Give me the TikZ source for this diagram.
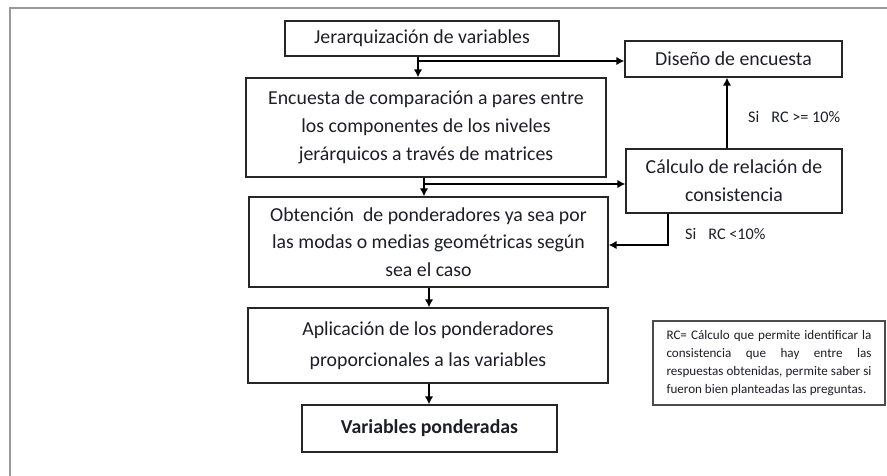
\documentclass[tikz,border=0pt]{standalone}
\usepackage{fontspec}
\setmainfont{Carlito}
\usetikzlibrary{arrows.meta,calc}
\definecolor{txt}{HTML}{1E1E28}
\definecolor{frame}{HTML}{9A9A9A}
\tikzset{
  box/.style={draw=black!85, line width=1.4pt, inner sep=0pt, align=center,
    text=txt, font={\fontsize{19.8}{27.8}\selectfont}},
  arr/.style={draw=black, line width=1.5pt, -{Latex[length=8pt,width=8.5pt]}},
  lbl/.style={anchor=west, inner sep=0pt, text=txt, font={\fontsize{16.2}{19}\selectfont}},
  notebox/.style={draw=black!70, line width=1.6pt, inner sep=0pt, text=txt,
    minimum width=232pt, minimum height=84pt, align=left,
    font={\fontsize{13.1}{18}\selectfont}}
}
\newcommand{\jline}[1]{\makebox[205pt][s]{#1}}
\begin{document}
\begin{tikzpicture}[x=1pt,y=-1pt]
\useasboundingbox (0,0) rectangle (887,475);
\fill[white] (0,0) rectangle (887,475);
% outer frame
\draw[frame, line width=2pt] (10,485) -- (10,8) -- (895,8);

% boxes
\node[box, minimum width=274pt, minimum height=35pt] (jer) at (422,38.5) {Jerarquización de variables};
\node[box, minimum width=217pt, minimum height=36pt] (dis) at (733.5,59) {Diseño de encuesta};
\node[box, minimum width=360pt, minimum height=99pt] (enc) at (426,127.5)
  {Encuesta de comparación a pares entre\\los componentes de los niveles\\jerárquicos a través de matrices};
\node[box, minimum width=216pt, minimum height=64pt] (cal) at (734,181)
  {Cálculo de relación de\\consistencia};
\node[box, minimum width=359pt, minimum height=90pt] (obt) at (428.5,242)
  {Obtención\ \ de ponderadores ya sea por\\las modas o medias geométricas según\\sea el caso};
\node[box, minimum width=360pt, minimum height=75pt, font={\fontsize{19.8}{31}\selectfont}] (apl) at (428,345.5)
  {Aplicación de los ponderadores\\proporcionales a las variables};
\node[box, minimum width=255pt, minimum height=47pt, font={\fontsize{19.8}{27.8}\selectfont\bfseries}] (var) at (429.5,428.5)
  {Variables ponderadas};
\node[notebox] (note) at (769,363)
  {\jline{RC= Cálculo que permite identificar la}\\
   \jline{consistencia que hay entre las}\\
   \jline{respuestas obtenidas, permite saber si}\\
   \makebox[205pt][l]{fueron bien planteadas las preguntas.}};

% junction coordinates
\coordinate (j1) at (418,61);
\coordinate (j2) at (424,184);
\coordinate (x3) at (727,0);
\coordinate (x4) at (668,245);
\coordinate (x5) at (429,0);

% connectors
\draw[arr] (jer.south -| j1) -- (enc.north -| j1);
\draw[arr] (j1) -- (dis.west |- j1);
\draw[arr] (enc.south -| j2) -- (obt.north -| j2);
\draw[arr] (j2) -- (cal.west |- j2);
\draw[arr] (cal.north -| x3) -- (dis.south -| x3);
\draw[arr] (cal.south -| x4) -- (x4) -- (obt.east |- x4);
\draw[arr] (obt.south -| x5) -- (apl.north -| x5);
\draw[arr] (apl.south -| x5) -- (var.north -| x5);

% labels
\node[lbl] (l1) at (748,117) {Si\hspace{12pt}RC >= 10\%};
\node[lbl] (l2) at (685,234) {Si\hspace{12pt}RC <10\%};
\end{tikzpicture}
\end{document}
